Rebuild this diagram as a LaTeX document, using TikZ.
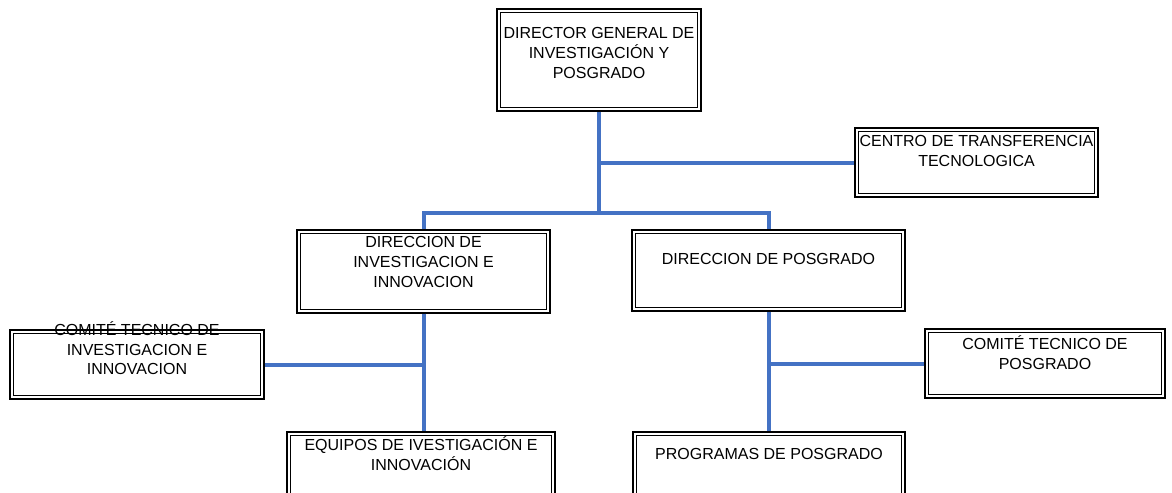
\documentclass[tikz,border=0pt]{standalone}
\usepackage{fontspec}
\setmainfont{Liberation Sans}
\usepackage{tikz}
\usetikzlibrary{calc}
\usetikzlibrary{positioning}
\newlength{\px}\setlength{\px}{0.75pt}
\definecolor{linkblue}{HTML}{4472C4}
\tikzset{dbox/.style={draw=black, line width=1.1pt, inner sep=0pt,
  path picture={
            \draw[line width=0.5pt]
                ([shift={(2.4pt,-2.4pt)}]path picture bounding box.north west) rectangle ([shift={(-2.4pt,2.4pt)}]path picture bounding box.south east);
            }}}
\tikzset{lbl/.style={align=center, inner sep=0pt, font=\fontsize{12}{14.8}\selectfont}}
\tikzset{link/.style={draw=linkblue, line width=3pt}}

\begin{document}
\begin{tikzpicture}[x=\px, y=-\px]

\useasboundingbox (0,0) rectangle (1172,493);
\clip (0,0) rectangle (1172,493);

\node[dbox, minimum width=204\px, minimum height=102\px] (dg) at (599,60) {};
\node[dbox, minimum width=243\px, minimum height=69\px] (ctt) at (976.5,162.5) {};
\node[dbox, minimum width=253\px, minimum height=83\px] (dii) at (423.5,271.5) {};
\node[dbox, minimum width=273\px, minimum height=81\px] (dpos) at (768.5,270.5) {};
\node[dbox, minimum width=254\px, minimum height=69\px] (cti) at (137,364.5) {};
\node[dbox, minimum width=240\px, minimum height=69\px] (ctp) at (1045,363.5) {};
\node[dbox, minimum width=268\px, minimum height=88\px] (eqp) at (421,476) {};
\node[dbox, minimum width=272\px, minimum height=88\px] (prg) at (769,476) {};

\node[lbl, below=19\px of dg.north] (dgT) {DIRECTOR GENERAL DE\\INVESTIGACIÓN Y\\POSGRADO};
\node[lbl, below=8\px of ctt.north] (cttT) {CENTRO DE TRANSFERENCIA\\TECNOLOGICA};
\node[lbl, below=7\px of dii.north] (diiT) {DIRECCION DE\\INVESTIGACION E\\INNOVACION};
\node[lbl, below=24\px of dpos.north] (dposT) {DIRECCION DE POSGRADO};
\node[lbl, below=-8\px of cti.north] (ctiT) {COMITÉ TECNICO DE\\INVESTIGACION E\\INNOVACION};
\node[lbl, below=7\px of ctp.north] (ctpT) {COMITÉ TECNICO DE\\POSGRADO};
\node[lbl, below=5\px of eqp.north] (eqpT) {EQUIPOS DE IVESTIGACIÓN E\\INNOVACIÓN};
\node[lbl, below=17\px of prg.north] (prgT) {PROGRAMAS DE POSGRADO};

\coordinate (trunk) at (599,213);
\draw[link] (dg.south) -- (trunk);
\draw[link] (trunk |- ctt.west) -- (ctt.west);
\draw[link] (dii.north) -- (dii.north |- trunk) -- (dpos.north |- trunk) -- (dpos.north);

\draw[link] (dii.south) -- (dii.south |- eqp.north);
\draw[link] (cti.east) -- (dii.south |- cti.east);
\draw[link] (dpos.south) -- (dpos.south |- prg.north);
\draw[link] (ctp.west) -- (dpos.south |- ctp.west);

\end{tikzpicture}
\end{document}
